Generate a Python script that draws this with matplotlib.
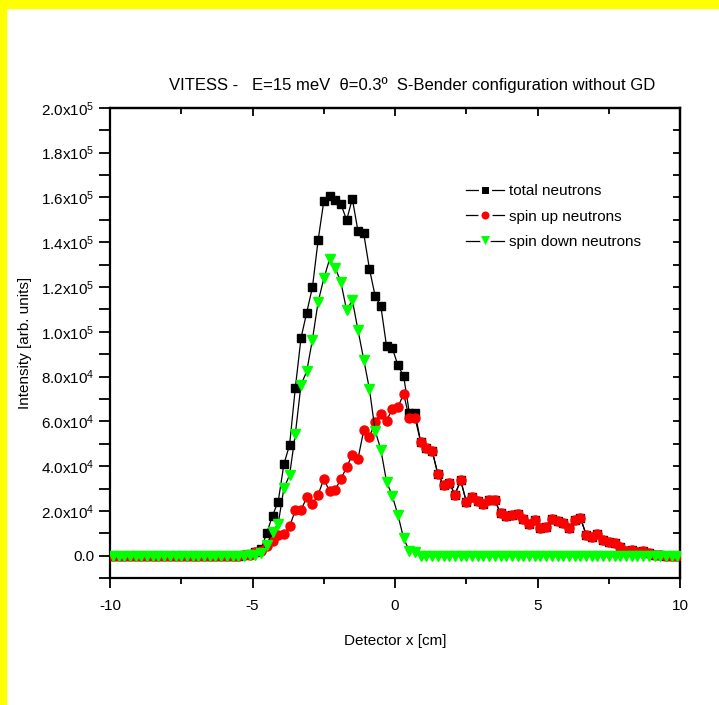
import matplotlib
matplotlib.use("Agg")
import matplotlib.pyplot as plt
from matplotlib.patches import Rectangle
from matplotlib.lines import Line2D
from matplotlib.ticker import MultipleLocator, FixedLocator

plt.rcParams['font.family'] = ['Liberation Sans', 'DejaVu Sans']
plt.rcParams['mathtext.fontset'] = 'custom'
plt.rcParams['mathtext.rm'] = 'Liberation Sans'
plt.rcParams['mathtext.default'] = 'regular'
plt.rcParams['axes.unicode_minus'] = False

# detector bins, -9.9 .. 9.9 cm in 0.2 cm steps
x = [round(-9.9 + 0.2 * i, 1) for i in range(100)]

zeros_left = [0] * 23  # -9.9 .. -5.5

total = zeros_left + [
    200, 600, 1800, 3000, 10200, 17900, 24200, 40900, 49500, 74900,
    97200, 108600, 119800, 140900, 158400, 160800, 158800, 157000, 149900, 159400,
    144800, 143900, 128100, 116000, 111500, 93600, 92800, 85000, 80200, 63800,
    63800, 50700, 48000, 46800, 36500, 31600, 32500, 27300, 33700, 24000,
    26400, 24500, 23300, 24700, 24700, 18900, 17800, 18200, 18700, 16600,
    14000, 16000, 12200, 12700, 16600, 15300, 14800, 12500, 16000, 17000,
    9400, 8400, 9800, 6900, 6100, 5500, 4000, 2200, 2500, 1700,
    1900, 1300, 500, 300, 0, 0, 0]

spin_up = zeros_left + [
    200, 500, 1500, 2000, 4400, 6600, 9300, 9800, 13100, 20300,
    20300, 26100, 23000, 27200, 34300, 28800, 29500, 34300, 39500, 45100,
    43300, 56100, 53200, 59600, 63500, 60300, 65500, 66400, 72200, 61400,
    61400, 50700, 48000, 46800, 36500, 31600, 32500, 27300, 33700, 24000,
    26400, 24500, 23300, 24700, 24700, 18900, 17800, 18200, 18700, 16600,
    14000, 16000, 12200, 12700, 16600, 15300, 14800, 12500, 16000, 17000,
    9400, 8400, 9800, 6900, 6100, 5500, 4000, 2200, 2500, 1700,
    1900, 1300, 500, 300, 0, 0, 0]

spin_down = zeros_left + [
    0, 100, 300, 1000, 5000, 10700, 14300, 30100, 36100, 54300,
    76400, 82300, 96500, 113300, 123800, 132300, 128600, 122100, 109600, 114100,
    100700, 87600, 74400, 55800, 47400, 33100, 26800, 18200, 7700, 2200,
    1800] + [0] * 46

labels = ['total neutrons', 'spin up neutrons', 'spin down neutrons']
face = ['black', '#ff0000', '#00ff00']
marks = ['s', 'o', 'v']

fig = plt.figure(figsize=(7.19, 7.05), dpi=100)
ax = fig.add_axes([0.153, 0.180, 0.793, 0.667])

# yellow frame on the left and top edges
fig.patches.append(Rectangle((0, 0), 6 / 719, 1, transform=fig.transFigure,
                             color='#ffff00', zorder=0))
fig.patches.append(Rectangle((0, 1 - 8 / 705), 1, 8 / 705, transform=fig.transFigure,
                             color='#ffff00', zorder=0))

sizes = [5.5, 6.5, 6.5]
for k, ys in enumerate([total, spin_up, spin_down]):
    ax.plot(x, ys, '-', color='black', lw=0.9, marker=marks[k], ms=sizes[k],
            mfc=face[k], mec=face[k], zorder=3 + k)

ax.set_xlim(-10, 10)
ax.set_ylim(-1.0e4, 2.0e5)

ax.xaxis.set_major_locator(MultipleLocator(5))
ax.xaxis.set_minor_locator(MultipleLocator(2.5))
yt = [0, 2e4, 4e4, 6e4, 8e4, 1e5, 1.2e5, 1.4e5, 1.6e5, 1.8e5, 2e5]
ytl = ['0.0'] + ['%.1fx10$^{%d}$' % (v / 10 ** (len(str(int(v))) - 1), len(str(int(v))) - 1)
                 for v in yt[1:]]
ax.set_yticks(yt)
ax.set_yticklabels(ytl)
ax.yaxis.set_minor_locator(FixedLocator([-1e4 + 2e4 * k for k in range(11)]))

ax.tick_params(axis='both', which='major', direction='out', length=7, width=1.3,
               labelsize=11, top=False, right=False)
ax.tick_params(axis='both', which='minor', direction='out', length=4, width=1.3,
               top=False, right=False)
ax.tick_params(axis='y', which='both', length=8)
ax.tick_params(axis='x', which='major', pad=8)
for s in ax.spines.values():
    s.set_linewidth(1.6)

# inward ticks on the top and right frame
top = ax.secondary_xaxis('top')
top.set_xticks([-10, -5, 0, 5, 10])
top.xaxis.set_minor_locator(MultipleLocator(2.5))
top.tick_params(which='major', direction='in', length=6, width=1.3, labeltop=False)
top.tick_params(which='minor', direction='in', length=4, width=1.3)
top.spines['top'].set_linewidth(1.6)
right = ax.secondary_yaxis('right')
right.set_yticks(yt)
right.yaxis.set_minor_locator(FixedLocator([-1e4 + 2e4 * k for k in range(11)]))
right.tick_params(which='both', direction='in', length=5, width=1.3, labelright=False)
right.spines['right'].set_linewidth(1.6)

ax.set_xlabel('Detector x [cm]', fontsize=11, labelpad=15)
ax.set_ylabel('Intensity [arb. units]', fontsize=11, labelpad=6)

fig.text(0.573, 0.879, 'VITESS -   E=15 meV  \u03b8=0.3\u00ba  S-Bender configuration without GD',
         ha='center', va='center', fontsize=12)

# legend keys: line, gap, marker, gap, line
handles = [Line2D([], [], color='black', lw=0.9, marker=marks[k], ms=[7.5, 8.0, 10.0][k],
                  mfc=face[k], mec='white', mew=2.2) for k in range(3)]
ax.legend(handles, labels, loc='upper left', bbox_to_anchor=(0.6, 0.867), frameon=False,
          fontsize=11, numpoints=1, handlelength=2.5, handletextpad=0.35,
          labelspacing=0.75)

fig.savefig('out.png', dpi=100)
